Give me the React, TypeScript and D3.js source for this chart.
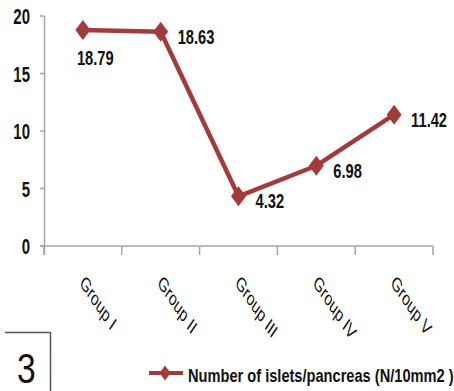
import React from "react";
import * as d3 from "d3";

// Islet counts per group
const groups: string[] = ["Group I", "Group II", "Group III", "Group IV", "Group V"];
const islets: number[] = [18.79, 18.63, 4.32, 6.98, 11.42];
const yTicks: number[] = [0, 5, 10, 15, 20];
const seriesName = "Number of islets/pancreas (N/10mm2 )";
const figureNumber = "3";

const W = 454;
const H = 391;
const LINE = "#a23b3b";
const AXIS = "#a6a6a6";
const FONT = "'Liberation Sans', Arial, sans-serif";

const diamond = (cx: number, cy: number, hw: number, hh: number) =>
  `M${cx},${cy - hh}L${cx + hw},${cy}L${cx},${cy + hh}L${cx - hw},${cy}Z`;

export default function App() {
  const x = d3.scaleBand<string>().domain(groups).range([44, 433]);
  const y = d3.scaleLinear().domain([0, 20]).range([246, 16]);
  const cx = (g: string) => (x(g) ?? 0) + x.bandwidth() / 2;

  const line = d3
    .line<number>()
    .x((_, i) => cx(groups[i]))
    .y((v) => y(v));

  const bandEdges = [...groups.map((g) => x(g) ?? 0), x.range()[1]];

  return (
    <svg
      width={W}
      height={H}
      style={{ position: "absolute", left: 0, top: 0, background: "#fff" }}
      fontFamily={FONT}
    >
      {/* y axis */}
      <line x1={44.5} x2={44.5} y1={y(20)} y2={255} stroke={AXIS} strokeWidth={1.5} />
      {yTicks.map((t) => (
        <g key={t}>
          <line x1={40} x2={44.5} y1={y(t)} y2={y(t)} stroke={AXIS} strokeWidth={1.5} />
          <text
            transform={`translate(30,${y(t) + 8}) scale(0.68,1)`}
            textAnchor="end"
            fontSize={22}
            fontWeight="bold"
            fill="#111"
          >
            {t}
          </text>
        </g>
      ))}

      {/* x axis */}
      <line x1={40} x2={433} y1={y(0)} y2={y(0)} stroke={AXIS} strokeWidth={1.5} />
      {bandEdges.map((e, i) => (
        <line key={i} x1={e} x2={e} y1={y(0)} y2={255} stroke={AXIS} strokeWidth={1.5} />
      ))}
      {groups.map((g) => (
        <text
          key={g}
          transform={`translate(${cx(g) - 4},${y(0) + 38}) scale(0.68,1) rotate(45)`}
          fontSize={20}
          fill="#111"
        >
          {g}
        </text>
      ))}

      {/* series */}
      <path d={line(islets) ?? ""} fill="none" stroke={LINE} strokeWidth={4.5} strokeLinejoin="round" />
      {islets.map((v, i) => (
        <path key={i} d={diamond(cx(groups[i]), y(v), 7.5, 10)} fill={LINE} />
      ))}
      {islets.map((v, i) => {
        const px = cx(groups[i]);
        const py = y(v);
        const below = i === 0;
        return (
          <text
            key={i}
            transform={`translate(${below ? px - 6 : px + 17},${below ? py + 35 : py + 12}) scale(0.7,1)`}
            fontSize={21}
            fontWeight="bold"
            fill="#111"
          >
            {v.toFixed(2)}
          </text>
        );
      })}

      {/* figure number box */}
      <path d="M5,332.5H50.5V391" fill="none" stroke="#555" strokeWidth={1.5} />
      <text transform="translate(17,383) scale(0.8,1)" fontSize={42} fill="#111">
        {figureNumber}
      </text>

      {/* legend */}
      <line x1={149} x2={183} y1={373} y2={373} stroke={LINE} strokeWidth={4} />
      <path d={diamond(165, 373, 5.5, 7.5)} fill={LINE} />
      <text
        transform="translate(188,382) scale(0.77,1)"
        fontSize={19}
        fontWeight="bold"
        fill="#111"
      >
        {seriesName}
      </text>
    </svg>
  );
}
